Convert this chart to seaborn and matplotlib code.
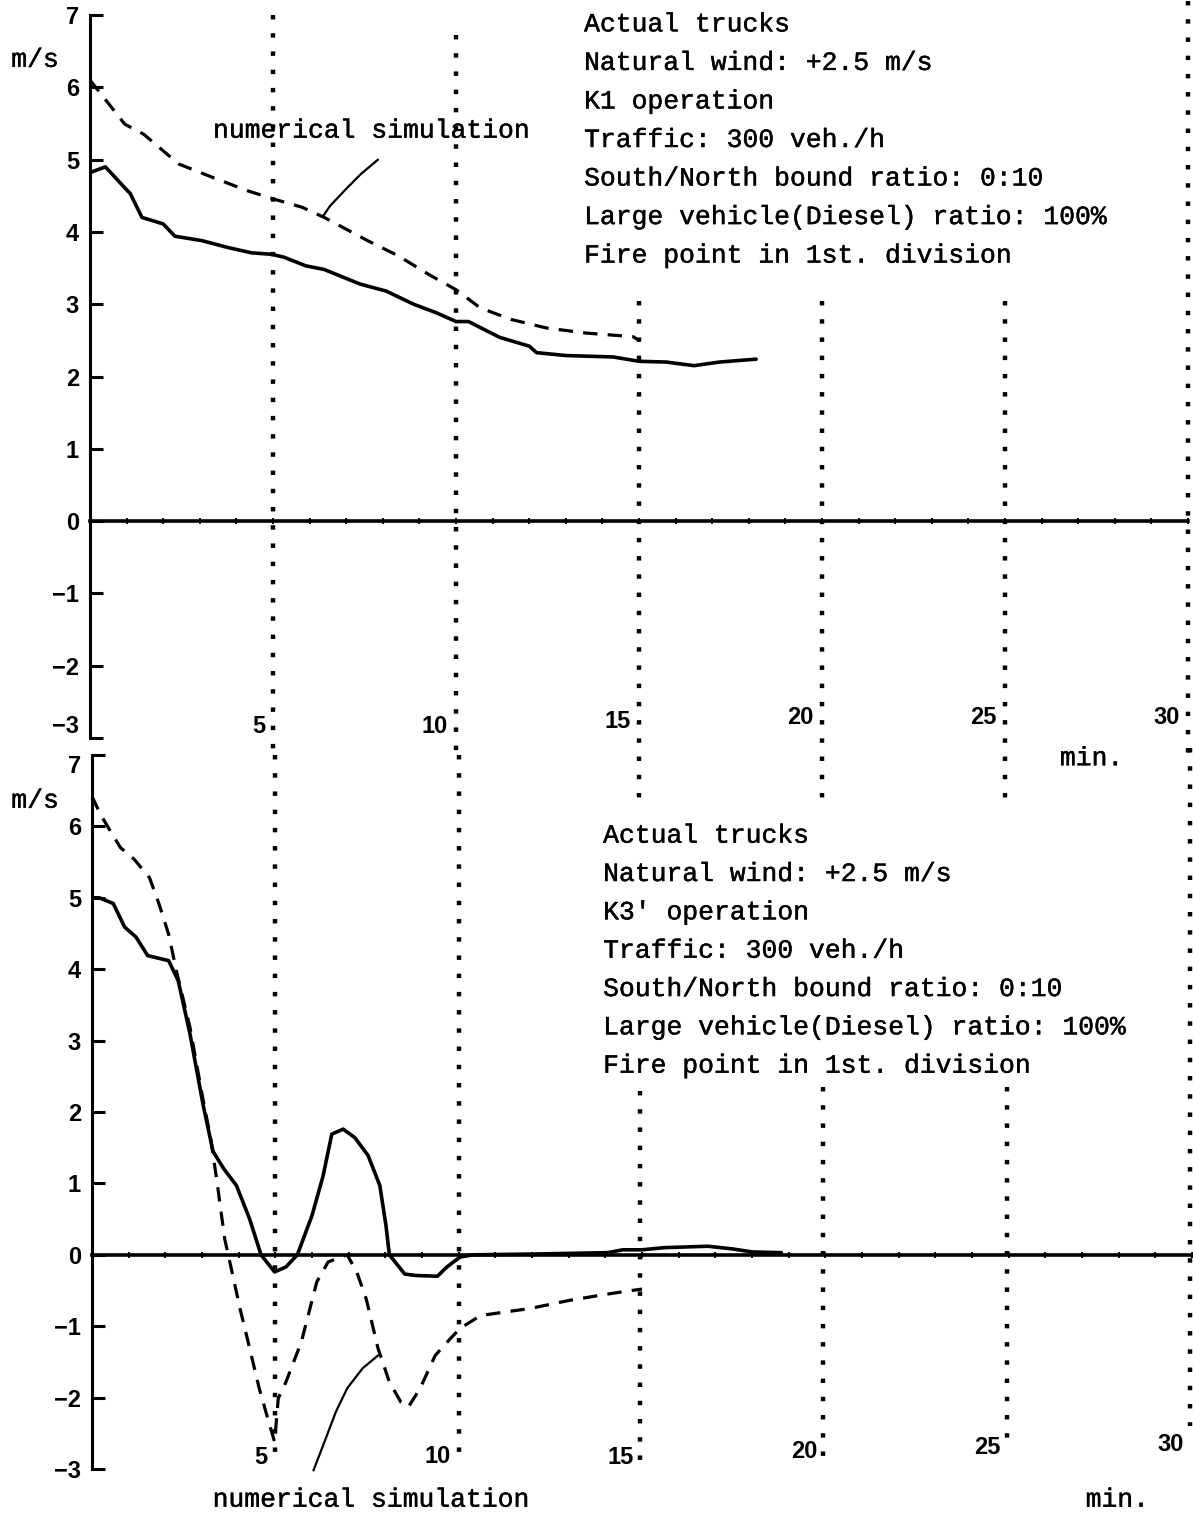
import numpy as np
import pandas as pd
import matplotlib
matplotlib.use("Agg")
import matplotlib.pyplot as plt
import matplotlib.patheffects as pe
import seaborn as sns

# upper panel: K1 operation
k1_meas_t = [0, 0.42, 0.95, 1.1, 1.42, 2.0, 2.32, 3.05, 3.8, 4.42, 4.97, 5.3, 5.9, 6.4, 7.37,
             8.1, 8.84, 9.47, 10.0, 10.34, 11.2, 12.0, 12.2, 13.0, 14.3, 15.0, 15.74, 16.5, 17.2, 18.2]
k1_meas_v = [4.82, 4.9, 4.61, 4.53, 4.2, 4.11, 3.94, 3.88, 3.78, 3.71, 3.69, 3.65, 3.53, 3.48, 3.28,
             3.18, 3.0, 2.88, 2.76, 2.76, 2.54, 2.42, 2.33, 2.29, 2.27, 2.21, 2.2, 2.15, 2.2, 2.24]
k1_sim_t = [0, 0.53, 0.95, 1.47, 2.42, 3.37, 4.3, 5.05, 5.8, 6.4, 7.58, 8.42, 9.26, 10.0,
            10.66, 11.5, 12.48, 13.57, 14.84, 15.0]
k1_sim_v = [6.1, 5.76, 5.49, 5.35, 4.94, 4.75, 4.57, 4.45, 4.34, 4.2, 3.88, 3.67, 3.41, 3.2,
            2.95, 2.79, 2.67, 2.6, 2.55, 2.5]

# lower panel: K3' operation
k3_meas_t = [0, 0.2, 0.58, 0.89, 1.2, 1.52, 2.09, 2.35, 2.67, 3.03, 3.3, 3.6, 3.94, 4.3, 4.61,
             4.98, 5.29, 5.6, 6.0, 6.3, 6.54, 6.85, 7.17, 7.53, 7.85, 8.02, 8.11, 8.53, 8.84, 9.42,
             9.68, 10.04, 10.4, 12.0, 14.06, 14.48, 15.0, 15.6, 16.8, 17.5, 18.0, 18.8]
k3_meas_v = [5.0, 5.0, 4.92, 4.59, 4.45, 4.19, 4.12, 3.84, 3.1, 2.1, 1.45, 1.2, 0.97, 0.5, 0.0,
             -0.24, -0.17, 0.0, 0.55, 1.1, 1.69, 1.76, 1.64, 1.39, 0.97, 0.4, 0.0, -0.27, -0.29, -0.3,
             -0.17, -0.03, 0.0, 0.01, 0.03, 0.07, 0.07, 0.1, 0.12, 0.08, 0.04, 0.03]
k3_sim_t = [0, 0.21, 0.47, 0.78, 1.15, 1.57, 1.83, 2.09, 2.3, 2.67, 3.03, 3.24, 3.41, 3.62, 3.78,
            4.04, 4.3, 4.56, 4.77, 4.98, 5.08, 5.29, 5.71, 6.13, 6.44, 6.96, 7.22, 7.48, 7.8, 8.11,
            8.42, 8.63, 8.95, 9.36, 9.78, 10.04, 10.6, 11.97, 13.0, 14.06, 14.58, 15.0]
k3_sim_v = [6.42, 6.19, 5.96, 5.7, 5.54, 5.28, 4.91, 4.49, 3.98, 3.19, 2.17, 1.62, 1.02, 0.22, -0.15,
            -0.76, -1.31, -1.87, -2.25, -2.62, -2.01, -1.78, -1.22, -0.38, -0.1, 0.0, -0.24, -0.62, -1.31, -1.78,
            -2.06, -2.13, -1.87, -1.41, -1.17, -1.03, -0.85, -0.75, -0.64, -0.55, -0.51, -0.48]

# leader lines pointing at the simulated curves
k1_leader_t = [7.87, 7.4, 6.97, 6.56, 6.37]
k1_leader_v = [5.0, 4.8, 4.58, 4.36, 4.22]
k3_leader_t = [7.80, 7.38, 6.96, 6.65, 6.34, 6.04]
k3_leader_v = [-1.41, -1.59, -1.87, -2.2, -2.62, -3.02]

info_k1 = ["Actual trucks", "Natural wind: +2.5 m/s", "K1 operation", "Traffic: 300 veh./h",
           "South/North bound ratio: 0:10", "Large vehicle(Diesel) ratio: 100%",
           "Fire point in 1st. division"]
info_k3 = ["Actual trucks", "Natural wind: +2.5 m/s", "K3' operation", "Traffic: 300 veh./h",
           "South/North bound ratio: 0:10", "Large vehicle(Diesel) ratio: 100%",
           "Fire point in 1st. division"]
grid_min = [5, 10, 15, 20, 25, 30]
grid_labels = ["5", "10", "15", "20", "25", "30"]
y_ticks = [-3, -2, -1, 0, 1, 2, 3, 4, 5, 6, 7]
minute_ticks = list(range(0, 31))

sns.set_theme(style="white")
plt.rcParams["font.family"] = ["Liberation Sans", "DejaVu Sans"]
mono = ["Liberation Mono", "DejaVu Sans Mono"]
ink = [pe.withStroke(linewidth=0.3, foreground="black")]

W, H = 1193, 1518
fig = plt.figure(figsize=(W / 100, H / 100), dpi=100)
ax1 = fig.add_axes([90 / W, 1 - 738 / H, 1098 / W, 723 / H])
ax2 = fig.add_axes([92 / W, 1 - 1469 / H, 1100 / W, 714 / H])


def style_axes(ax):
    ax.set_xlim(0, 30)
    ax.set_ylim(-3, 7)
    ax.patch.set_alpha(0)
    for s in ["top", "right"]:
        ax.spines[s].set_visible(False)
    ax.spines["left"].set_linewidth(2.2)
    ax.spines["left"].set_color("black")
    ax.spines["bottom"].set_position(("data", 0))
    ax.spines["bottom"].set_linewidth(2.6)
    ax.spines["bottom"].set_color("black")
    ax.set_yticks(y_ticks)
    ax.set_xticks(minute_ticks)
    ax.tick_params(axis="y", left=True, direction="in", length=9, width=2.2,
                   labelsize=17, pad=8, colors="black")
    ax.tick_params(axis="x", bottom=True, direction="inout", length=5, width=1.4,
                   labelbottom=False, colors="black")
    for lab in ax.get_yticklabels():
        lab.set_fontweight("bold")
    ax.grid(False)


def dotted(ax, segs):
    for t, y0, y1 in segs:
        ax.plot([t, t], [y0, y1], color="black", lw=3.2,
                linestyle=(0, (1, 3.1)), clip_on=False, zorder=1)


def panel(ax, meas_t, meas_v, sim_t, sim_v, lead_t, lead_v, info, info_x, info_y0, info_dy,
          segs, lab_y, sim_xy, min_xy, ms_xy):
    style_axes(ax)
    dotted(ax, segs)
    meas = pd.DataFrame({"min": meas_t, "v": meas_v})
    sim = pd.DataFrame({"min": sim_t, "v": sim_v})
    sns.lineplot(data=meas, x="min", y="v", ax=ax, color="black", lw=2.6,
                 sort=False, estimator=None, zorder=3)
    sns.lineplot(data=sim, x="min", y="v", ax=ax, color="black", lw=2.3,
                 sort=False, estimator=None, zorder=3)
    ax.lines[-1].set_dashes((4.5, 3.2))
    ax.plot(lead_t, lead_v, color="black", lw=1.6, clip_on=False)
    ax.set_xlabel("")
    ax.set_ylabel("")
    for i, line in enumerate(info):
        ax.text(info_x, info_y0 - i * info_dy, line, family=mono, fontsize=19,
                ha="left", va="center", color="black", path_effects=ink)
    for g, lab, ly in zip(grid_min, grid_labels, lab_y):
        ax.text(g - 0.22, ly, lab, fontsize=17, fontweight="bold", ha="right",
                va="center", color="black", clip_on=False)
    ax.text(sim_xy[0], sim_xy[1], "numerical simulation", family=mono, fontsize=19,
            ha="left", va="center", color="black", clip_on=False, path_effects=ink)
    ax.text(min_xy[0], min_xy[1], "min.", family=mono, fontsize=19, ha="left",
            va="center", color="black", clip_on=False, path_effects=ink)
    ax.text(ms_xy[0], ms_xy[1], "m/s", family=mono, fontsize=19, ha="center",
            va="center", color="black", clip_on=False, path_effects=ink)


panel(ax1, k1_meas_t, k1_meas_v, k1_sim_t, k1_sim_v, k1_leader_t, k1_leader_v,
      info_k1, 13.5, 6.87, 0.533,
      [(5, 7.0, -3.2), (10, 6.73, -3.2), (15, 3.05, -3.95), (20, 3.05, -3.95),
       (25, 3.05, -3.95), (30, 7.2, -3.35)],
      [-2.84, -2.84, -2.77, -2.72, -2.72, -2.72],
      (3.36, 5.4), (26.5, -3.28), (-1.5, 6.38))

panel(ax2, k3_meas_t, k3_meas_v, k3_sim_t, k3_sim_v, k3_leader_t, k3_leader_v,
      info_k3, 13.94, 5.87, 0.537,
      [(5, 7.0, -2.95), (10, 7.0, -2.9), (14.95, 2.3, -2.9), (19.95, 2.35, -2.85),
       (24.95, 2.35, -2.75), (29.95, 7.1, -2.4)],
      [-2.84, -2.83, -2.84, -2.76, -2.7, -2.66],
      (3.29, -3.43), (27.1, -3.43), (-1.55, 6.36))

# keep the -3 of the upper panel clear of the 7 of the lower one
ax1.get_yticklabels()[0].set_va("bottom")
ax2.get_yticklabels()[-1].set_va("top")

fig.savefig("out.png", dpi=100, facecolor="white")
